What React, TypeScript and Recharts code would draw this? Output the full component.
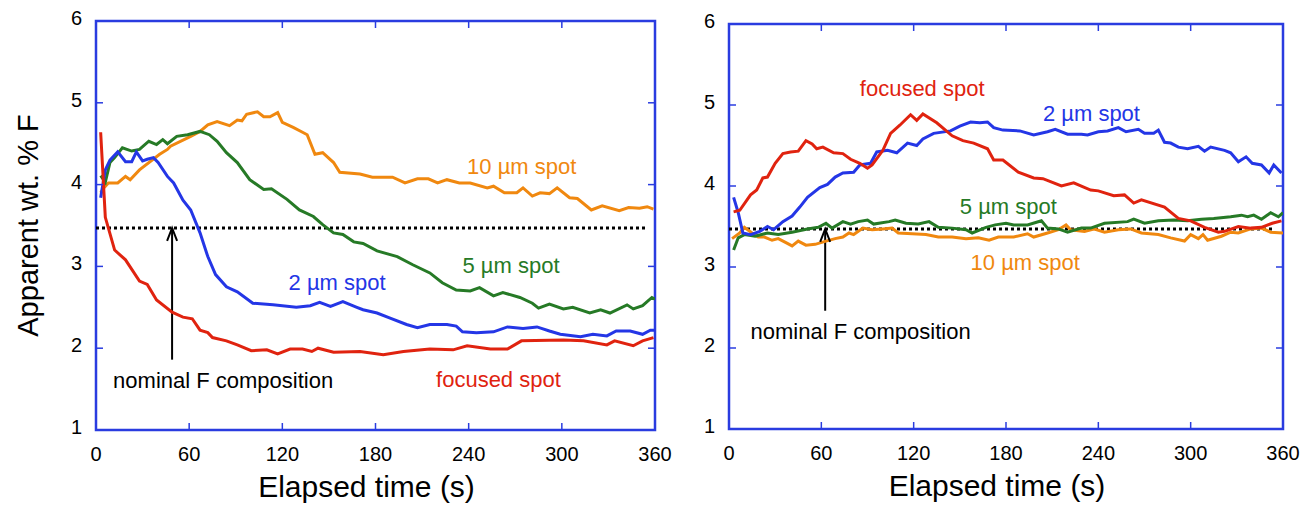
import { LineChart, Line, XAxis, YAxis, ReferenceLine, ReferenceDot, ReferenceArea } from "recharts";

type Pt = [number, number];

const X_TICKS = [0, 60, 120, 180, 240, 300, 360];
const Y_TICKS = [1, 2, 3, 4, 5, 6];
const NOMINAL_F = 3.47;

// left panel (elapsed time s, apparent wt.% F)
const LEFT_FOCUSED: Pt[] = [
  [3, 4.64], [6, 3.6], [12, 3.2], [19, 3.08], [28, 2.82], [33, 2.78], [39, 2.59], [49, 2.44],
  [56, 2.38], [62, 2.36], [67, 2.22], [72, 2.19], [75, 2.13], [84, 2.09], [91, 2.04], [100, 1.97],
  [110, 1.98], [117, 1.93], [125, 1.99], [133, 1.99], [139, 1.96], [143, 2.0], [153, 1.95],
  [170, 1.96], [185, 1.92], [198, 1.96], [215, 1.99], [230, 1.98], [239, 2.03], [254, 1.99],
  [265, 1.99], [274, 2.09], [301, 2.1], [314, 2.09], [329, 2.04], [334, 2.09], [346, 2.03],
  [352, 2.09], [359, 2.13],
];
const LEFT_2UM: Pt[] = [
  [3, 3.84], [6, 4.18], [9, 4.3], [14, 4.4], [19, 4.28], [23, 4.28], [26, 4.4], [30, 4.29],
  [33, 4.31], [37, 4.33], [40, 4.27], [46, 4.1], [50, 4.02], [56, 3.81], [61, 3.69], [67, 3.41],
  [72, 3.12], [77, 2.9], [84, 2.75], [91, 2.69], [101, 2.55], [114, 2.53], [129, 2.5], [138, 2.52],
  [144, 2.56], [151, 2.51], [159, 2.57], [168, 2.5], [172, 2.47], [181, 2.43], [189, 2.37],
  [200, 2.29], [207, 2.25], [215, 2.29], [226, 2.29], [232, 2.27], [236, 2.2], [245, 2.19],
  [256, 2.2], [265, 2.26], [275, 2.24], [284, 2.26], [292, 2.21], [299, 2.17], [312, 2.14],
  [320, 2.17], [329, 2.15], [335, 2.21], [344, 2.21], [352, 2.17], [357, 2.22], [360, 2.22],
];
const LEFT_5UM: Pt[] = [
  [3, 4.11], [6, 4.03], [9, 4.27], [12, 4.33], [17, 4.45], [23, 4.41], [28, 4.43], [34, 4.53],
  [39, 4.49], [43, 4.55], [46, 4.5], [52, 4.59], [59, 4.61], [67, 4.65], [73, 4.61], [78, 4.53],
  [84, 4.39], [91, 4.27], [99, 4.06], [108, 3.94], [113, 3.95], [123, 3.82], [131, 3.69],
  [140, 3.61], [146, 3.51], [153, 3.41], [159, 3.39], [166, 3.3], [172, 3.28], [181, 3.19],
  [194, 3.12], [204, 3.02], [215, 2.92], [223, 2.8], [232, 2.71], [241, 2.7], [247, 2.74],
  [256, 2.64], [262, 2.68], [273, 2.62], [281, 2.55], [285, 2.49], [292, 2.54], [301, 2.48],
  [307, 2.5], [318, 2.43], [325, 2.47], [331, 2.43], [342, 2.53], [346, 2.48], [352, 2.52],
  [358, 2.62], [360, 2.6],
];
const LEFT_10UM: Pt[] = [
  [3, 3.9], [5, 3.96], [8, 4.02], [14, 4.02], [19, 4.1], [22, 4.06], [28, 4.18], [41, 4.37],
  [46, 4.43], [48, 4.47], [61, 4.59], [67, 4.65], [72, 4.73], [78, 4.77], [86, 4.72], [91, 4.79],
  [94, 4.78], [97, 4.86], [104, 4.89], [108, 4.83], [112, 4.83], [117, 4.88], [120, 4.76],
  [127, 4.7], [133, 4.64], [136, 4.61], [141, 4.37], [146, 4.39], [153, 4.27], [157, 4.15],
  [170, 4.13], [178, 4.09], [191, 4.09], [199, 4.02], [207, 4.07], [214, 4.07], [220, 4.02],
  [226, 4.06], [234, 4.02], [241, 4.02], [252, 3.96], [256, 3.98], [263, 3.9], [271, 3.9],
  [275, 3.96], [281, 3.86], [286, 3.9], [292, 3.89], [297, 3.96], [305, 3.84], [310, 3.83],
  [319, 3.69], [326, 3.74], [337, 3.68], [343, 3.72], [350, 3.71], [355, 3.73], [359, 3.7],
];

// right panel
const RIGHT_FOCUSED: Pt[] = [
  [3, 3.68], [7, 3.7], [14, 3.89], [18, 3.95], [22, 4.1], [25, 4.11], [30, 4.28], [35, 4.4],
  [40, 4.42], [45, 4.43], [50, 4.56], [54, 4.52], [57, 4.46], [61, 4.48], [68, 4.41], [74, 4.4],
  [79, 4.33], [85, 4.28], [90, 4.22], [93, 4.26], [100, 4.44], [105, 4.65], [111, 4.75],
  [118, 4.88], [122, 4.81], [126, 4.89], [135, 4.78], [145, 4.62], [152, 4.56], [159, 4.53],
  [168, 4.46], [172, 4.32], [178, 4.32], [188, 4.17], [198, 4.1], [204, 4.09], [216, 4.0],
  [224, 4.04], [235, 3.95], [240, 3.94], [250, 3.88], [257, 3.89], [263, 3.79], [268, 3.83],
  [283, 3.74], [292, 3.6], [300, 3.57], [309, 3.49], [318, 3.43], [322, 3.44], [331, 3.5],
  [339, 3.48], [346, 3.49], [353, 3.54], [359, 3.57],
];
const RIGHT_2UM: Pt[] = [
  [3, 3.86], [6, 3.67], [9, 3.42], [14, 3.4], [20, 3.44], [25, 3.5], [29, 3.46], [35, 3.56],
  [41, 3.63], [46, 3.74], [51, 3.86], [59, 3.98], [64, 4.02], [69, 4.11], [74, 4.16], [81, 4.17],
  [85, 4.26], [92, 4.28], [96, 4.42], [103, 4.44], [109, 4.41], [116, 4.53], [122, 4.5],
  [126, 4.58], [133, 4.65], [144, 4.68], [150, 4.74], [157, 4.79], [163, 4.78], [168, 4.79],
  [172, 4.72], [178, 4.69], [189, 4.68], [198, 4.63], [207, 4.67], [212, 4.7], [220, 4.64],
  [229, 4.64], [233, 4.63], [240, 4.67], [246, 4.68], [253, 4.72], [258, 4.67], [266, 4.7],
  [270, 4.65], [276, 4.65], [279, 4.69], [283, 4.54], [287, 4.53], [292, 4.48], [298, 4.46],
  [305, 4.49], [309, 4.43], [313, 4.48], [322, 4.44], [326, 4.41], [331, 4.3], [336, 4.36],
  [340, 4.28], [346, 4.26], [351, 4.16], [354, 4.26], [359, 4.16],
];
const RIGHT_5UM: Pt[] = [
  [3, 3.21], [6, 3.36], [10, 3.4], [17, 3.38], [25, 3.42], [32, 3.4], [41, 3.43], [51, 3.47],
  [58, 3.49], [63, 3.54], [67, 3.48], [74, 3.56], [79, 3.53], [84, 3.56], [90, 3.58], [94, 3.53],
  [104, 3.56], [108, 3.58], [115, 3.54], [123, 3.53], [130, 3.56], [136, 3.49], [145, 3.48],
  [154, 3.46], [158, 3.42], [167, 3.49], [173, 3.52], [180, 3.54], [185, 3.52], [194, 3.52],
  [203, 3.57], [207, 3.48], [214, 3.47], [220, 3.43], [229, 3.48], [235, 3.48], [244, 3.54],
  [259, 3.56], [263, 3.59], [270, 3.54], [279, 3.57], [289, 3.58], [298, 3.57], [307, 3.59],
  [315, 3.6], [326, 3.62], [333, 3.64], [337, 3.62], [341, 3.64], [346, 3.59], [352, 3.67],
  [357, 3.62], [360, 3.67],
];
const RIGHT_10UM: Pt[] = [
  [2, 3.35], [7, 3.42], [10, 3.49], [15, 3.42], [19, 3.37], [23, 3.37], [28, 3.33], [32, 3.35],
  [37, 3.3], [41, 3.26], [45, 3.32], [50, 3.27], [56, 3.28], [63, 3.32], [69, 3.35], [74, 3.37],
  [78, 3.42], [81, 3.4], [87, 3.48], [93, 3.46], [100, 3.47], [106, 3.48], [110, 3.42],
  [119, 3.41], [128, 3.4], [136, 3.37], [145, 3.37], [154, 3.35], [162, 3.36], [169, 3.33],
  [175, 3.37], [185, 3.37], [194, 3.41], [198, 3.37], [207, 3.42], [214, 3.46], [219, 3.52],
  [222, 3.46], [231, 3.44], [237, 3.47], [244, 3.43], [253, 3.46], [261, 3.47], [268, 3.42],
  [279, 3.4], [287, 3.36], [296, 3.32], [300, 3.4], [305, 3.35], [308, 3.4], [311, 3.33],
  [320, 3.38], [326, 3.43], [331, 3.42], [339, 3.47], [346, 3.48], [352, 3.43], [360, 3.42],
];

const FRAME = "#2a3ce0";
const RED = "#e0230f";
const BLUE = "#2436e6";
const GREEN = "#267a26";
const ORANGE = "#f0880f";
const FONT = "'Liberation Sans', Arial, Helvetica, sans-serif";
const TICK_LEN = 7;
const X_MARGIN = 23;
const Y_MARGIN = 14;

const toRows = (pts: Pt[]) => pts.map(([t, v]) => ({ t, v }));

interface SeriesDef {
  name: string;
  color: string;
  pts: Pt[];
}

interface NoteDef {
  text: string;
  color: string;
  t: number;
  v: number;
}

interface PanelProps {
  left: number;
  width: number;
  yAxisWidth: number;
  top: number;
  bottomHeight: number;
  rightMargin: number;
  series: SeriesDef[];
  notes: NoteDef[];
  arrowT: number;
  arrowFrom: number;
  showYTitle: boolean;
}

function Panel(p: PanelProps) {
  const plotLeft = p.yAxisWidth;
  const plotRight = p.width - p.rightMargin;
  const plotTop = p.top;
  const plotBottom = 506 - p.bottomHeight;

  const textShape = (n: NoteDef) => (props: any) => (
    <text
      x={props.cx}
      y={props.cy}
      fill={n.color}
      fontSize={22}
      fontFamily={FONT}
      dominantBaseline="central"
    >
      {n.text}
    </text>
  );

  const arrowHead = (props: any) => (
    <path
      d={`M${props.cx - 5},${props.cy + 13} L${props.cx},${props.cy} L${props.cx + 5},${props.cy + 13}`}
      fill="none"
      stroke="#000"
      strokeWidth={2}
    />
  );

  // x tick: label plus inward tick marks on bottom and top edges
  const xTick = (props: any) => {
    const { x, y, payload, index } = props;
    const inner = index > 0 && index < X_TICKS.length - 1;
    return (
      <g>
        {inner && (
          <>
            <line x1={x} x2={x} y1={plotBottom} y2={plotBottom - TICK_LEN} stroke={FRAME} strokeWidth={1.5} />
            <line x1={x} x2={x} y1={plotTop} y2={plotTop + TICK_LEN} stroke={FRAME} strokeWidth={1.5} />
          </>
        )}
        <text x={x} y={y + 8} textAnchor="middle" fontSize={20} fontFamily={FONT} fill="#000">
          {payload.value}
        </text>
      </g>
    );
  };

  // y tick: label plus inward tick marks on left and right edges
  const yTick = (props: any) => {
    const { x, y, payload, index } = props;
    const inner = index > 0 && index < Y_TICKS.length - 1;
    return (
      <g>
        {inner && (
          <>
            <line x1={plotLeft} x2={plotLeft + TICK_LEN} y1={y} y2={y} stroke={FRAME} strokeWidth={1.5} />
            <line x1={plotRight} x2={plotRight - TICK_LEN} y1={y} y2={y} stroke={FRAME} strokeWidth={1.5} />
          </>
        )}
        <text x={x} y={y + 4} textAnchor="end" fontSize={20} fontFamily={FONT} fill="#000">
          {payload.value}
        </text>
      </g>
    );
  };

  const xTitle = (props: any) => {
    const vb = props.viewBox;
    return (
      <text
        x={vb.x + vb.width / 2 - 9}
        y={vb.y + 67}
        textAnchor="middle"
        fontSize={30}
        fontFamily={FONT}
        fill="#000"
      >
        Elapsed time (s)
      </text>
    );
  };

  const yTitle = (props: any) => {
    const vb = props.viewBox;
    const cy = vb.y + vb.height / 2;
    return (
      <text
        x={38}
        y={cy}
        transform={`rotate(-90 38 ${cy})`}
        textAnchor="middle"
        fontSize={29}
        fontFamily={FONT}
        fill="#000"
      >
        Apparent wt. % F
      </text>
    );
  };

  return (
    <div style={{ position: "absolute", left: p.left, top: 0 }}>
      <LineChart
        width={p.width}
        height={506}
        margin={{ top: p.top, right: p.rightMargin, left: 0, bottom: 0 }}
      >
        <XAxis
          xAxisId="b"
          dataKey="t"
          type="number"
          domain={[0, 360]}
          ticks={X_TICKS}
          interval={0}
          height={p.bottomHeight}
          axisLine={false}
          tickLine={false}
          tickSize={0}
          tickMargin={X_MARGIN}
          tick={xTick}
          label={xTitle}
          allowDataOverflow
        />
        <YAxis
          yAxisId="l"
          type="number"
          domain={[1, 6]}
          ticks={Y_TICKS}
          interval={0}
          width={p.yAxisWidth}
          axisLine={false}
          tickLine={false}
          tickSize={0}
          tickMargin={Y_MARGIN}
          tick={yTick}
          label={p.showYTitle ? yTitle : undefined}
          allowDataOverflow
        />
        <ReferenceArea
          xAxisId="b"
          yAxisId="l"
          x1={0}
          x2={360}
          y1={1}
          y2={6}
          fill="none"
          fillOpacity={0}
          stroke={FRAME}
          strokeWidth={2.5}
        />
        <ReferenceLine
          xAxisId="b"
          yAxisId="l"
          segment={[
            { x: 0, y: NOMINAL_F },
            { x: 354, y: NOMINAL_F },
          ]}
          stroke="#000"
          strokeWidth={3}
          strokeDasharray="3 3"
        />
        <ReferenceLine
          xAxisId="b"
          yAxisId="l"
          segment={[
            { x: p.arrowT, y: p.arrowFrom },
            { x: p.arrowT, y: NOMINAL_F },
          ]}
          stroke="#000"
          strokeWidth={2}
        />
        <ReferenceDot xAxisId="b" yAxisId="l" x={p.arrowT} y={NOMINAL_F} r={0} shape={arrowHead} />
        {p.series.map((s) => (
          <Line
            key={s.name}
            xAxisId="b"
            yAxisId="l"
            data={toRows(s.pts)}
            dataKey="v"
            name={s.name}
            type="linear"
            stroke={s.color}
            strokeWidth={3}
            dot={false}
            isAnimationActive={false}
          />
        ))}
        {p.notes.map((n) => (
          <ReferenceDot
            key={n.text + n.t}
            xAxisId="b"
            yAxisId="l"
            x={n.t}
            y={n.v}
            r={0}
            shape={textShape(n)}
          />
        ))}
      </LineChart>
    </div>
  );
}

const LEFT_SERIES: SeriesDef[] = [
  { name: "10 µm spot", color: ORANGE, pts: LEFT_10UM },
  { name: "5 µm spot", color: GREEN, pts: LEFT_5UM },
  { name: "2 µm spot", color: BLUE, pts: LEFT_2UM },
  { name: "focused spot", color: RED, pts: LEFT_FOCUSED },
];

const RIGHT_SERIES: SeriesDef[] = [
  { name: "10 µm spot", color: ORANGE, pts: RIGHT_10UM },
  { name: "5 µm spot", color: GREEN, pts: RIGHT_5UM },
  { name: "2 µm spot", color: BLUE, pts: RIGHT_2UM },
  { name: "focused spot", color: RED, pts: RIGHT_FOCUSED },
];

const LEFT_NOTES: NoteDef[] = [
  { text: "10 µm spot", color: ORANGE, t: 239, v: 4.22 },
  { text: "5 µm spot", color: GREEN, t: 236, v: 3.01 },
  { text: "2 µm spot", color: BLUE, t: 124, v: 2.8 },
  { text: "focused spot", color: RED, t: 219, v: 1.62 },
  { text: "nominal F composition", color: "#000", t: 11, v: 1.61 },
];

const RIGHT_NOTES: NoteDef[] = [
  { text: "focused spot", color: RED, t: 85, v: 5.2 },
  { text: "2 µm spot", color: BLUE, t: 204, v: 4.9 },
  { text: "5 µm spot", color: GREEN, t: 150, v: 3.75 },
  { text: "10 µm spot", color: ORANGE, t: 157, v: 3.05 },
  { text: "nominal F composition", color: "#000", t: 14, v: 2.2 },
];

export default function App() {
  return (
    <div
      style={{
        position: "absolute",
        left: 0,
        top: 0,
        width: 1310,
        height: 506,
        background: "#fff",
        overflow: "hidden",
      }}
    >
      <Panel
        left={0}
        width={680}
        yAxisWidth={96}
        top={21}
        bottomHeight={76}
        rightMargin={25}
        series={LEFT_SERIES}
        notes={LEFT_NOTES}
        arrowT={49}
        arrowFrom={1.86}
        showYTitle
      />
      <Panel
        left={680}
        width={630}
        yAxisWidth={49}
        top={24}
        bottomHeight={77}
        rightMargin={27}
        series={RIGHT_SERIES}
        notes={RIGHT_NOTES}
        arrowT={62.5}
        arrowFrom={2.46}
        showYTitle={false}
      />
    </div>
  );
}
